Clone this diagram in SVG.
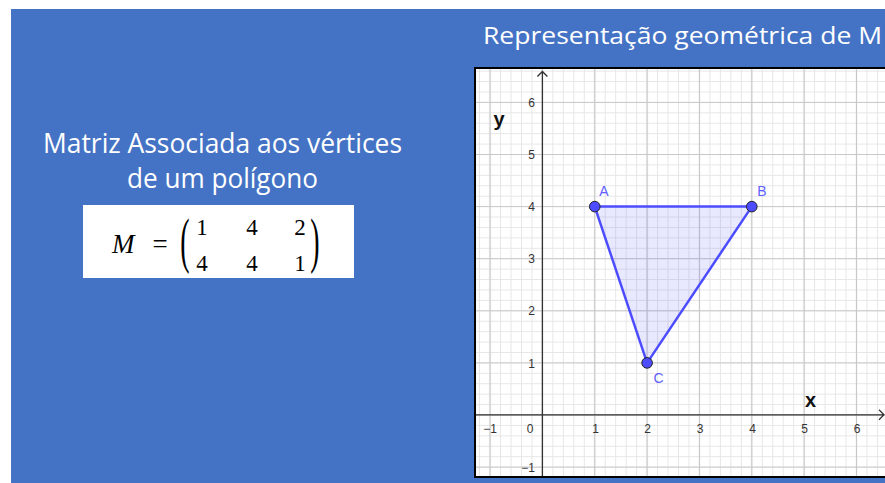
<svg xmlns="http://www.w3.org/2000/svg" width="885" height="483" viewBox="0 0 885 483">
<style>
.w{font-family:"Open Sans","Liberation Sans",sans-serif;fill:#fff}
.tk{font-family:"Liberation Sans",Arial,sans-serif;font-size:12px;fill:#333}
.tx{text-anchor:middle}
.ty{text-anchor:end}
.ax{stroke:#333;stroke-width:1.3;fill:none}
.lbl{font-family:"Liberation Sans",Arial,sans-serif;font-size:14px;fill:#6060ff;text-anchor:middle}
.pt{fill:#4d4dff;stroke:#222;stroke-width:1}
.m{font-family:"Liberation Serif","Times New Roman",serif;fill:#000}
.d{font-size:23px;text-anchor:middle}
</style>
<defs>
<pattern id="minor" patternUnits="userSpaceOnUse" x="537.165" y="409.79" width="10.47" height="10.42">
<path d="M5.235 0V10.42M0 5.21H10.47" stroke="#e6e6e6" stroke-width="1" fill="none"/>
</pattern>
<pattern id="major" patternUnits="userSpaceOnUse" x="516.225" y="388.95" width="52.35" height="52.1">
<path d="M26.175 0V52.1M0 26.05H52.35" stroke="#c8c8c8" stroke-width="1.2" fill="none"/>
</pattern>
<clipPath id="pc"><rect x="476" y="69" width="409" height="407"/></clipPath>
</defs>
<rect x="0" y="0" width="885" height="483" fill="#fff"/>
<rect x="11" y="9" width="874" height="474" fill="#4472c4"/>
<g id="title"><text class="w" x="483" y="43.5" font-size="23" textLength="399" lengthAdjust="spacingAndGlyphs">Representação geométrica de M</text></g>
<g id="caption">
<text class="w" x="43" y="153" font-size="27" textLength="359" lengthAdjust="spacingAndGlyphs">Matriz Associada aos vértices</text>
<text class="w" x="127" y="188" font-size="27" textLength="191" lengthAdjust="spacingAndGlyphs">de um polígono</text>
</g>
<g id="matrix">
<rect x="83" y="205" width="271" height="73" fill="#fff"/>
<text class="m" x="112" y="253" font-size="27" font-style="italic">M</text>
<text class="m" x="160" y="253" font-size="27" text-anchor="middle">=</text>
<text class="m" font-size="62" text-anchor="middle" transform="translate(185,261) scale(0.45,1)">(</text>
<text class="m" font-size="62" text-anchor="middle" transform="translate(315,261) scale(0.45,1)">)</text>
<text class="m d" x="202" y="235">1</text>
<text class="m d" x="252" y="235">4</text>
<text class="m d" x="300" y="235">2</text>
<text class="m d" x="202" y="271">4</text>
<text class="m d" x="252" y="271">4</text>
<text class="m d" x="300" y="271">1</text>
</g>
<g id="graph">
<rect x="475" y="68" width="415" height="409" fill="#fff"/>
<g clip-path="url(#pc)">
<rect x="475" y="68" width="415" height="409" fill="url(#minor)"/>
<rect x="475" y="68" width="415" height="409" fill="url(#major)"/>
</g>
<g id="axes">
<path class="ax" d="M542.4 476V71.5M537.4 76.5L542.4 71.5L547.4 76.5"/>
<path class="ax" d="M476 414.8H884M879 409.8L884 414.8L879 419.8"/>
</g>
<g id="ticks">
<text class="tk tx" x="490" y="432.5">−1</text>
<text class="tk tx" x="530" y="432.5">0</text>
<text class="tk tx" x="595.5" y="432.5">1</text>
<text class="tk tx" x="647.5" y="432.5">2</text>
<text class="tk tx" x="700" y="432.5">3</text>
<text class="tk tx" x="752.5" y="432.5">4</text>
<text class="tk tx" x="804.5" y="432.5">5</text>
<text class="tk tx" x="857" y="432.5">6</text>
<text class="tk ty" x="535" y="107">6</text>
<text class="tk ty" x="535" y="159">5</text>
<text class="tk ty" x="535" y="211">4</text>
<text class="tk ty" x="535" y="263">3</text>
<text class="tk ty" x="535" y="315">2</text>
<text class="tk ty" x="535" y="367.5">1</text>
<text class="tk ty" x="535" y="471.5">−1</text>
</g>
<text x="499" y="126" font-family="Liberation Sans,Arial,sans-serif" font-size="20" font-weight="bold" text-anchor="middle" fill="#111">y</text>
<text x="810.5" y="407" font-family="Liberation Sans,Arial,sans-serif" font-size="20" font-weight="bold" text-anchor="middle" fill="#111">x</text>
<rect x="475" y="68" width="420" height="409" fill="none" stroke="#000" stroke-width="2"/>
</g>
<g id="triangle">
<polygon points="594.75,206.6 751.8,206.6 647.1,362.9" fill="#4d4dff" fill-opacity="0.13" stroke="#4d4dff" stroke-width="2.5" stroke-linejoin="round"/>
</g>
<g id="A"><circle class="pt" cx="594.75" cy="206.6" r="5.3"/><text class="lbl" x="604" y="196">A</text></g>
<g id="B"><circle class="pt" cx="751.8" cy="206.6" r="5.3"/><text class="lbl" x="762" y="196">B</text></g>
<g id="C"><circle class="pt" cx="647.1" cy="362.9" r="5.3"/><text class="lbl" x="658.5" y="383">C</text></g>
</svg>
